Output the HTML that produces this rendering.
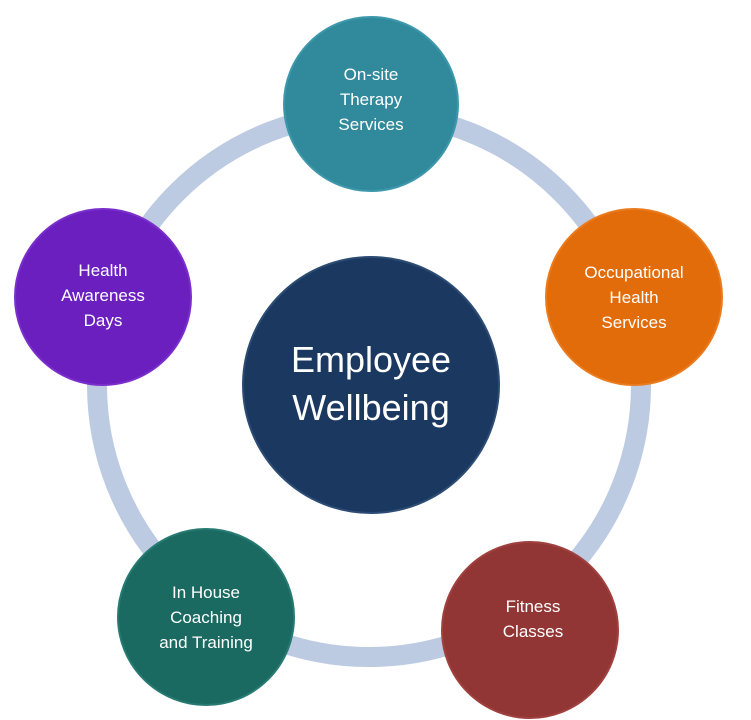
<!DOCTYPE html>
<html><head><meta charset="utf-8"><style>
body{margin:0;background:#fff;}
svg{display:block;}
text{font-family:"Liberation Sans",sans-serif;fill:#fff;text-anchor:middle;}
</style></head><body>
<svg width="751" height="720" viewBox="0 0 751 720">
<circle cx="369" cy="385" r="272" fill="none" stroke="#bccbe2" stroke-width="20"/>
<g>
<circle cx="371" cy="385" r="128" fill="#1b3960" stroke="#2c4c74" stroke-width="2"/>
<text x="371" y="372" font-size="36">Employee</text>
<text x="371" y="420" font-size="36">Wellbeing</text>
</g>
<g>
<circle cx="371" cy="104" r="87" fill="#31899c" stroke="#3d98ab" stroke-width="2"/>
<text x="371" y="80" font-size="17">On-site</text>
<text x="371" y="105" font-size="17">Therapy</text>
<text x="371" y="130" font-size="17">Services</text>
</g>
<g>
<circle cx="634" cy="297" r="88" fill="#e26b0a" stroke="#ea7b1e" stroke-width="2"/>
<text x="634" y="278" font-size="17">Occupational</text>
<text x="634" y="303" font-size="17">Health</text>
<text x="634" y="328" font-size="17">Services</text>
</g>
<g>
<circle cx="530" cy="630" r="88" fill="#913634" stroke="#a0413f" stroke-width="2"/>
<text x="533" y="612" font-size="17">Fitness</text>
<text x="533" y="637" font-size="17">Classes</text>
</g>
<g>
<circle cx="206" cy="617" r="88" fill="#1b6a62" stroke="#277a72" stroke-width="2"/>
<text x="206" y="598" font-size="17">In House</text>
<text x="206" y="623" font-size="17">Coaching</text>
<text x="206" y="648" font-size="17">and Training</text>
</g>
<g>
<circle cx="103" cy="297" r="88" fill="#6b1fbf" stroke="#7a2ecc" stroke-width="2"/>
<text x="103" y="276" font-size="17">Health</text>
<text x="103" y="301" font-size="17">Awareness</text>
<text x="103" y="326" font-size="17">Days</text>
</g>
</svg>
</body></html>
